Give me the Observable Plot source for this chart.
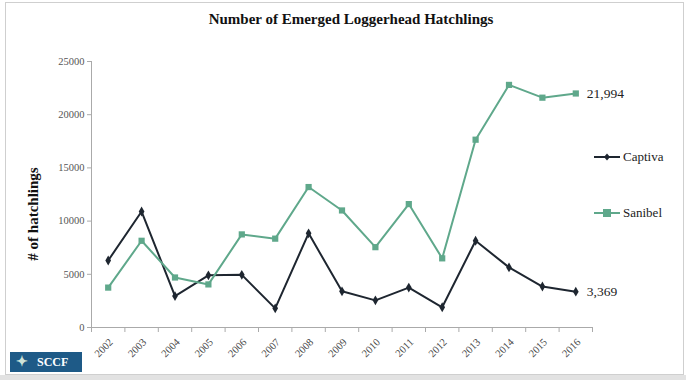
<!DOCTYPE html>
<html><head><meta charset="utf-8">
<script src="https://cdn.jsdelivr.net/npm/d3@7"></script>
<script src="https://cdn.jsdelivr.net/npm/@observablehq/plot@0.6"></script>
<style>
body{margin:0;background:#fff;}
#wrap{position:relative;width:686px;height:380px;overflow:hidden;font-family:"Liberation Serif","DejaVu Serif",serif;background:#fff;}
#frame{position:absolute;left:5px;top:2px;width:677px;height:371px;border:1px solid #cfcfcf;}
#band{position:absolute;left:0;top:375px;width:686px;height:5px;background:#e2e2e2;}
#title{position:absolute;left:8px;top:11px;width:686px;text-align:center;font-weight:bold;font-size:15px;color:#111;}
#chart{position:absolute;left:0;top:0;}
#chart svg text{font-family:"Liberation Serif",serif;}
#ylabel{position:absolute;left:33px;top:214px;transform:translate(-50%,-50%) rotate(-90deg);white-space:nowrap;font-weight:bold;font-size:15px;color:#111;}
.leg{position:absolute;left:594px;height:16px;display:flex;align-items:center;font-size:13px;color:#222;}
.leg svg{margin-right:3px;}
#logo{position:absolute;left:10px;top:352px;width:72px;height:20px;background:#1e5a87;color:#fff;font-weight:bold;font-size:12px;line-height:20px;box-sizing:border-box;padding-left:27px;}
#logo span{position:absolute;left:6px;top:2px;width:14px;height:16px;color:#cfe3d8;font-size:14px;line-height:16px;}
</style></head><body>
<div id="wrap">
  <div id="frame"></div>
  <div id="band"></div>
  <div id="title">Number of Emerged Loggerhead Hatchlings</div>
  <div id="chart"></div>
  <div id="ylabel"># of hatchlings</div>
  <div class="leg" id="leg0" style="top:149px"></div>
  <div class="leg" id="leg1" style="top:205px"></div>
  <div id="logo"><span>&#10022;</span>SCCF</div>
</div>
<script>
const years = [2002,2003,2004,2005,2006,2007,2008,2009,2010,2011,2012,2013,2014,2015,2016];
const captiva = [6300,10900,2950,4900,4950,1800,8850,3400,2550,3750,1900,8150,5650,3850,3369];
const sanibel = [3750,8150,4700,4050,8750,8350,13200,11000,7550,11600,6500,17650,22800,21600,21994];
const seriesNames = ["Captiva","Sanibel"];
const seriesColors = ["#1e2630","#5fa88b"];
const seriesSymbols = ["diamond","square"];
const yTicks = [0,5000,10000,15000,20000,25000];

const data = years.flatMap((yr,i)=>[
  {year:yr, series:seriesNames[0], value:captiva[i]},
  {year:yr, series:seriesNames[1], value:sanibel[i]}
]);
const bounds = years.map(y=>y-0.5).concat([years[years.length-1]+0.5]);
const lastYear = years[years.length-1];

const chart = Plot.plot({
  width:686, height:380,
  marginLeft:91, marginRight:94, marginTop:61, marginBottom:53,
  style:{background:"transparent", fontFamily:"Liberation Serif, serif", color:"#555"},
  x:{type:"linear", domain:[bounds[0], bounds[bounds.length-1]]},
  y:{domain:[0,25000]},
  color:{domain:seriesNames, range:seriesColors},
  symbol:{domain:seriesNames, range:seriesSymbols},
  marks:[
    Plot.axisY(yTicks,{tickSize:4, tickPadding:3, tickFormat:d3.format("d"), fontSize:10.5, stroke:"#aaa", fill:"#555", label:null}),
    Plot.axisX(bounds,{tickSize:5, tickFormat:()=>"", stroke:"#aaa", label:null}),
    Plot.axisX(years,{tickSize:0, tickPadding:13, tickRotate:-45, tickFormat:d=>String(d), fontSize:10.5, fill:"#444", label:null, dx:3}),
    Plot.ruleX([bounds[0]],{stroke:"#aaa"}),
    Plot.ruleY([0],{stroke:"#aaa"}),
    Plot.line(data,{x:"year", y:"value", z:"series", stroke:"series", strokeWidth:2}),
    Plot.dot(data,{x:"year", y:"value", fill:"series", symbol:"series", r:d=>d.series===seriesNames[1]?4.5:3.3, stroke:null}),
    Plot.text(data.filter(d=>d.year===lastYear),{x:"year", y:"value", text:d=>d3.format(",")(d.value), dx:11, textAnchor:"start", fontSize:13.5, fill:"#222"})
  ]
});
document.getElementById("chart").appendChild(chart);

seriesNames.forEach((name,i)=>{
  const el = document.getElementById("leg"+i);
  const sym = i===0
    ? `<path d="M13,4.5 L16,8 L13,11.5 L10,8 Z" fill="${seriesColors[i]}"/>`
    : `<rect x="9" y="4" width="8" height="8" fill="${seriesColors[i]}"/>`;
  el.innerHTML = `<svg width="26" height="16"><line x1="0" y1="8" x2="26" y2="8" stroke="${seriesColors[i]}" stroke-width="2"/>${sym}</svg><span>${name}</span>`;
});
</script>
</body></html>
